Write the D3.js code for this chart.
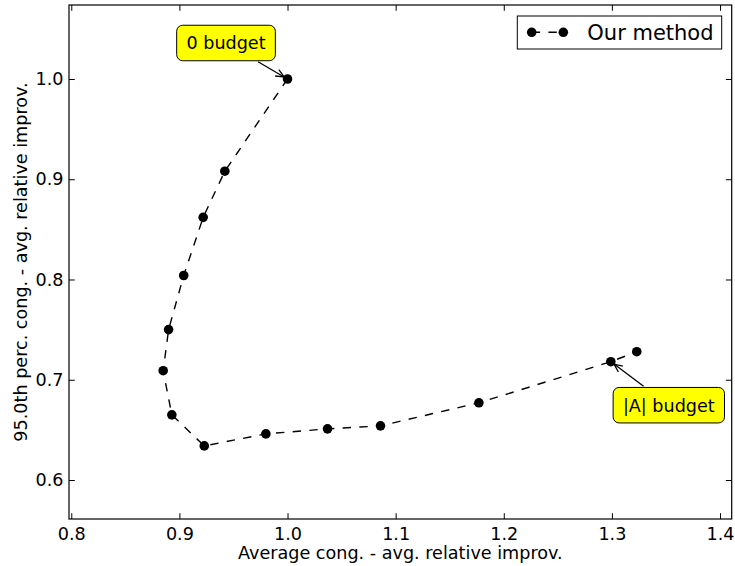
<!DOCTYPE html>
<html><head><meta charset="utf-8">
<script src="https://cdn.jsdelivr.net/npm/d3@7"></script>
<style>
body{margin:0;background:#fff}
svg text{font-family:"DejaVu Sans",sans-serif;fill:#000}
</style>
</head><body>
<svg id="chart" width="735" height="566"></svg>
<script>
// ---- data ----
const xValues = [1.000, 0.942, 0.922, 0.904, 0.890, 0.885, 0.893, 0.923, 0.980, 1.037, 1.086, 1.177, 1.299, 1.323];
const yValues = [1.000, 0.908, 0.862, 0.804, 0.750, 0.709, 0.665, 0.634, 0.646, 0.651, 0.654, 0.677, 0.718, 0.728];
const xTicks = [0.8, 0.9, 1.0, 1.1, 1.2, 1.3, 1.4];
const yTicks = [0.6, 0.7, 0.8, 0.9, 1.0];
const xDomain = [0.7979, 1.4108];
const yDomain = [0.5611, 1.0738];
const seriesName = "Our method";
const xLabel = "Average cong. - avg. relative improv.";
const yLabel = "95.0th perc. cong. - avg. relative improv.";
const annotationIndex = [0, 12];
const annotationText = ["0 budget", "|A| budget"];

// ---- layout ----
const W = 735, H = 566;
const m = {left: 69, right: 735 - 731.7, top: 5, bottom: 566 - 519};
const pw = W - m.left - m.right, ph = H - m.top - m.bottom;
const svg = d3.select("#chart");
const g = svg.append("g").attr("transform", `translate(${m.left},${m.top})`);

const x = d3.scaleLinear().domain(xDomain).range([0, pw]);
const y = d3.scaleLinear().domain(yDomain).range([ph, 0]);
const data = xValues.map((v, i) => ({x: v, y: yValues[i]}));

const tickLen = 5.8, fs = 17.6;
const fmt = d3.format(".1f");

function styleAxis(sel) {
  sel.select(".domain").remove();
  sel.selectAll(".tick line").attr("stroke", "#000").attr("stroke-width", 1);
  sel.selectAll(".tick text").style("font-size", fs + "px").attr("fill", "#000");
}
g.append("g").attr("transform", `translate(0,${ph})`)
  .call(d3.axisBottom(x).tickValues(xTicks).tickFormat(fmt).tickSizeInner(-tickLen).tickSizeOuter(0).tickPadding(8.5))
  .call(styleAxis);
g.append("g")
  .call(d3.axisTop(x).tickValues(xTicks).tickFormat("").tickSizeInner(-tickLen).tickSizeOuter(0))
  .call(styleAxis);
g.append("g")
  .call(d3.axisLeft(y).tickValues(yTicks).tickFormat(fmt).tickSizeInner(-tickLen).tickSizeOuter(0).tickPadding(5.5))
  .call(styleAxis);
g.append("g").attr("transform", `translate(${pw},0)`)
  .call(d3.axisRight(y).tickValues(yTicks).tickFormat("").tickSizeInner(-tickLen).tickSizeOuter(0))
  .call(styleAxis);

// frame
g.append("rect").attr("x", 0).attr("y", 0).attr("width", pw).attr("height", ph)
  .attr("fill", "none").attr("stroke", "#000").attr("stroke-width", 1.2);

// line + markers
const line = d3.line().x(d => x(d.x)).y(d => y(d.y));
g.append("path").datum(data).attr("d", line)
  .attr("fill", "none").attr("stroke", "#000").attr("stroke-width", 1.4)
  .attr("stroke-dasharray", "8.4,8.3");
g.selectAll("circle.pt").data(data).enter().append("circle").attr("class", "pt")
  .attr("cx", d => x(d.x)).attr("cy", d => y(d.y)).attr("r", 4.8).attr("fill", "#000");

// annotations
const annOffsets = [[-61.5, -36], [58, 43.5]];
annotationIndex.forEach((idx, k) => {
  const px = x(data[idx].x), py = y(data[idx].y);
  const cx = px + annOffsets[k][0], cy = py + annOffsets[k][1];
  const ag = g.append("g");
  const t = ag.append("text").attr("x", cx).attr("y", cy).attr("dy", "0.36em")
    .attr("text-anchor", "middle").style("font-size", fs + "px").text(annotationText[k]);
  const tw = t.node().getComputedTextLength();
  const bw = tw + 19.5, bh = 35.5;
  ag.insert("rect", "text").attr("x", cx - bw / 2).attr("y", cy - bh / 2)
    .attr("width", bw).attr("height", bh).attr("rx", 6).attr("ry", 6)
    .attr("fill", "#ffff00").attr("stroke", "#000").attr("stroke-width", 1);
  // arrow from box edge to point
  const dx = px - cx, dy = py - cy, len = Math.hypot(dx, dy);
  const ux = dx / len, uy = dy / len;
  const tEdge = Math.min(Math.abs((bw / 2) / dx), Math.abs((bh / 2) / dy));
  const sx = cx + dx * tEdge + ux * 2, sy = cy + dy * tEdge + uy * 2;
  const ex = px - ux * 4, ey = py - uy * 4;
  g.append("line").attr("x1", sx).attr("y1", sy).attr("x2", ex).attr("y2", ey)
    .attr("stroke", "#000").attr("stroke-width", 1.3);
  const hl = 9, ha = 0.42;
  const ang = Math.atan2(uy, ux);
  const h1 = [ex - hl * Math.cos(ang - ha), ey - hl * Math.sin(ang - ha)];
  const h2 = [ex - hl * Math.cos(ang + ha), ey - hl * Math.sin(ang + ha)];
  g.append("path").attr("d", `M${h1[0]},${h1[1]}L${ex},${ey}L${h2[0]},${h2[1]}`)
    .attr("fill", "none").attr("stroke", "#000").attr("stroke-width", 1.3);
});

// legend
const lg = svg.append("g").attr("transform", "translate(517.3,16)");
lg.append("rect").attr("width", 204.4).attr("height", 33).attr("fill", "#fff")
  .attr("stroke", "#000").attr("stroke-width", 1);
lg.append("line").attr("x1", 14.4).attr("x2", 46).attr("y1", 16.3).attr("y2", 16.3)
  .attr("stroke", "#000").attr("stroke-width", 1.4).attr("stroke-dasharray", "8.4,8.3");
[14.4, 46].forEach(lx => lg.append("circle").attr("cx", lx).attr("cy", 16.3).attr("r", 4.8).attr("fill", "#000"));
lg.append("text").attr("x", 70).attr("y", 16.5).attr("dy", "0.36em")
  .style("font-size", "21px").text(seriesName);

// axis labels
svg.append("text").attr("x", m.left + pw / 2).attr("y", 559.3).attr("text-anchor", "middle")
  .style("font-size", fs + "px").text(xLabel);
svg.append("text").attr("transform", `translate(26.7,${m.top + ph / 2}) rotate(-90)`)
  .attr("text-anchor", "middle").style("font-size", fs + "px").text(yLabel);
</script>
</body></html>
